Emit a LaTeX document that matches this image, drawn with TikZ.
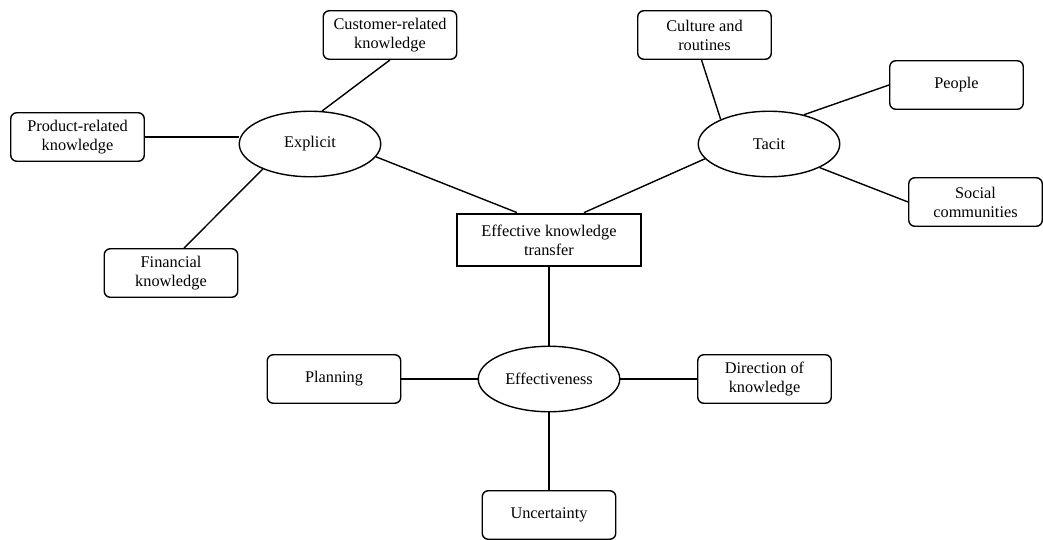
\documentclass[tikz,border=0pt]{standalone}
\usepackage{fontspec}
\setmainfont{Liberation Serif}
\usetikzlibrary{shapes.geometric}

\tikzset{%
	leaf/.style={draw,line width=1.4pt,rounded corners=6pt,minimum width=133.5pt,minimum height=48.5pt,align=center,inner sep=0pt},%
	hub/.style={draw,ellipse,line width=1.4pt,minimum width=141.5pt,minimum height=65.5pt,inner sep=0pt},%
	core/.style={draw,line width=2.8pt,minimum width=184pt,minimum height=52pt,align=center,inner sep=0pt},%
	link/.style={line width=1.4pt}%
}

\begin{document}
\begin{tikzpicture}[x=1pt,y=-1pt,font=\fontsize{16.3}{19}\selectfont] % 知識移転の図
\useasboundingbox (0,0) rectangle (1043,540);
% 中心
\node[core] (ekt) at (549,240) {Effective knowledge\\transfer};
\node[hub] (explicit) at (310,144) {Explicit};
\node[hub] (tacit) at (769,144) {Tacit};
\node[hub] (effect) at (549,379) {Effectiveness};
% 周りの箱
\node[leaf] (customer) at (390,35) {Customer-related\\knowledge};
\node[leaf] (product) at (77.5,137) {Product-related\\knowledge};
\node[leaf] (financial) at (171,273) {Financial\\knowledge};
\node[leaf] (culture) at (704.5,35) {Culture and\\routines};
\node[leaf] (people) at (956.5,85) {People};
\node[leaf] (social) at (975.5,202) {Social\\communities};
\node[leaf] (planning) at (334,379) {Planning};
\node[leaf] (direction) at (764.5,379) {Direction of\\knowledge};
\node[leaf] (uncert) at (549,515) {Uncertainty};
% 線の端
\coordinate (ektL) at ([xshift=-32pt]ekt.north);
\coordinate (ektR) at ([xshift=35pt]ekt.north);
\coordinate (finT) at ([xshift=13pt]financial.north);
\coordinate (culB) at ([xshift=-3pt]culture.south);
\coordinate (prodE) at (product.east -| explicit.west);
\foreach \from/\to in%
{%
	customer.south/explicit.70,%
	product.east/prodE,%
	finT/explicit.208,%
	explicit.-11/ektL,%
	culB/tacit.153,%
	people.west/tacit.40,%
	social.west/tacit.-25,%
	tacit.193/ektR,%
	ekt.south/effect.north,%
	planning.east/effect.west,%
	effect.east/direction.west,%
	effect.south/uncert.north%
}{%
	\draw[link] (\from) -- (\to);
}%
\end{tikzpicture}
\end{document}
